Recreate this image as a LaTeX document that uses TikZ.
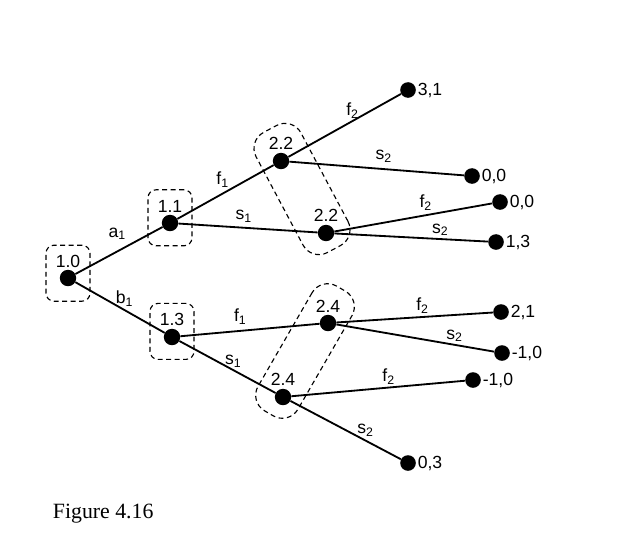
\documentclass[tikz,border=0pt]{standalone}
\usepackage{fontspec}
\setmainfont{Liberation Serif}
\setsansfont{Liberation Sans}
\usetikzlibrary{shapes.geometric, arrows, calc}
\tikzstyle{dec} = [circle, fill=black, inner sep=0pt, minimum size=0.41cm]
\tikzstyle{leaf} = [circle, fill=black, inner sep=0pt, minimum size=0.39cm, label distance=2.5pt]
\tikzstyle{infobox} = [rectangle, rounded corners=0.2cm, draw=black, line width=0.8pt,
dash pattern=on 3.5pt off 2.5pt, minimum width=1.1cm, minimum height=1.4cm]
\tikzstyle{infoset} = [rectangle, rounded corners=0.45cm, draw=black, line width=0.8pt,
dash pattern=on 3.5pt off 2.5pt]
\tikzstyle{line} = [line width=1.3pt]
\tikzstyle{lbl} = [inner sep=0pt, font=\sffamily\fontsize{12.5}{14}\selectfont]

\begin{document}
\begin{tikzpicture}[x=0.025cm, y=-0.025cm,
    every label/.style={inner sep=1pt, font=\sffamily\fontsize{12.5}{14}\selectfont}]
        \useasboundingbox (0,0) rectangle (636,558);
        % decision nodes
        \node (D10) [dec, label={[label distance=0pt]above:1.0}] at (68,278) {};
        \node (D11) [dec, label={[label distance=0.5pt]above:1.1}] at (170,223) {};
        \node (D13) [dec, label={[label distance=0.5pt]above:1.3}] at (172,337) {};
        \node (D22U) [dec, label={[label distance=1pt]above:2.2}] at (281,161) {};
        \node (D22L) [dec, label={[label distance=1pt]above:2.2}] at (326,233) {};
        \node (D24U) [dec, label={[label distance=0.5pt]above:2.4}] at (328,323) {};
        \node (D24L) [dec, label={[label distance=1pt]above:2.4}] at (283,397) {};

        % payoffs
        \node (T31) [leaf, label={right:{3,1}}] at (408,90) {};
        \node (T00U) [leaf, label={right:{0,0}}] at (472,176) {};
        \node (T00L) [leaf, label={right:{0,0}}] at (500,202) {};
        \node (T13) [leaf, label={right:{1,3}}] at (496,242) {};
        \node (T21) [leaf, label={right:{2,1}}] at (501,312) {};
        \node (T10U) [leaf, label={right:{-1,0}}] at (502,353) {};
        \node (T10L) [leaf, label={right:{-1,0}}] at (473,380) {};
        \node (T03) [leaf, label={right:{0,3}}] at (408,463) {};

        % information sets
        \node (I10) [infobox] at ([yshift=0.12cm]D10) {};
        \node (I11) [infobox] at ([yshift=0.13cm]D11) {};
        \node (I13) [infobox] at ([yshift=0.14cm]D13) {};
        \node (I22) [infoset, rotate=-62, minimum width=3.4cm, minimum height=1.27cm] at (302,189) {};
        \node (I24) [infoset, rotate=60, minimum width=3.6cm, minimum height=1.15cm] at (305,351) {};

        \draw [line] (D10) -- node[lbl, pos=.48, yshift=0.445cm] {a\textsubscript{1}} (D11);
        \draw [line] (D10) -- node[lbl, pos=.55, yshift=0.29cm] {b\textsubscript{1}} (D13);
        \draw [line] (D11) -- node[lbl, pos=.47, yshift=0.35cm] {f\textsubscript{1}} (D22U);
        \draw [line] (D11) -- node[lbl, pos=.47, yshift=0.29cm] {s\textsubscript{1}} (D22L);
        \draw [line] (D13) -- node[lbl, pos=.43, yshift=0.36cm] {f\textsubscript{1}} (D24U);
        \draw [line] (D13) -- node[lbl, pos=.56, yshift=0.22cm] {s\textsubscript{1}} (D24L);

        \draw [line] (D22U) -- node[lbl, pos=.57, yshift=0.265cm] {f\textsubscript{2}} (T31);
        \draw [line] (D22U) -- node[lbl, pos=.54, yshift=0.31cm] {s\textsubscript{2}} (T00U);
        \draw [line] (D22L) -- node[lbl, pos=.58, yshift=0.305cm] {f\textsubscript{2}} (T00L);
        \draw [line] (D22L) -- node[lbl, pos=.69, yshift=0.23cm] {s\textsubscript{2}} (T13);
        \draw [line] (D24U) -- node[lbl, pos=.55, yshift=0.275cm] {f\textsubscript{2}} (T21);
        \draw [line] (D24U) -- node[lbl, pos=.75, yshift=0.225cm] {s\textsubscript{2}} (T10U);
        \draw [line] (D24L) -- node[lbl, pos=.56, yshift=0.27cm] {f\textsubscript{2}} (T10L);
        \draw [line] (D24L) -- node[lbl, pos=.68, yshift=0.26cm] {s\textsubscript{2}} (T03);

        \node (FIG) [anchor=west, font=\fontsize{15.5}{18}\selectfont] at (48,514) {Figure 4.16};
    \end{tikzpicture}
\end{document}
